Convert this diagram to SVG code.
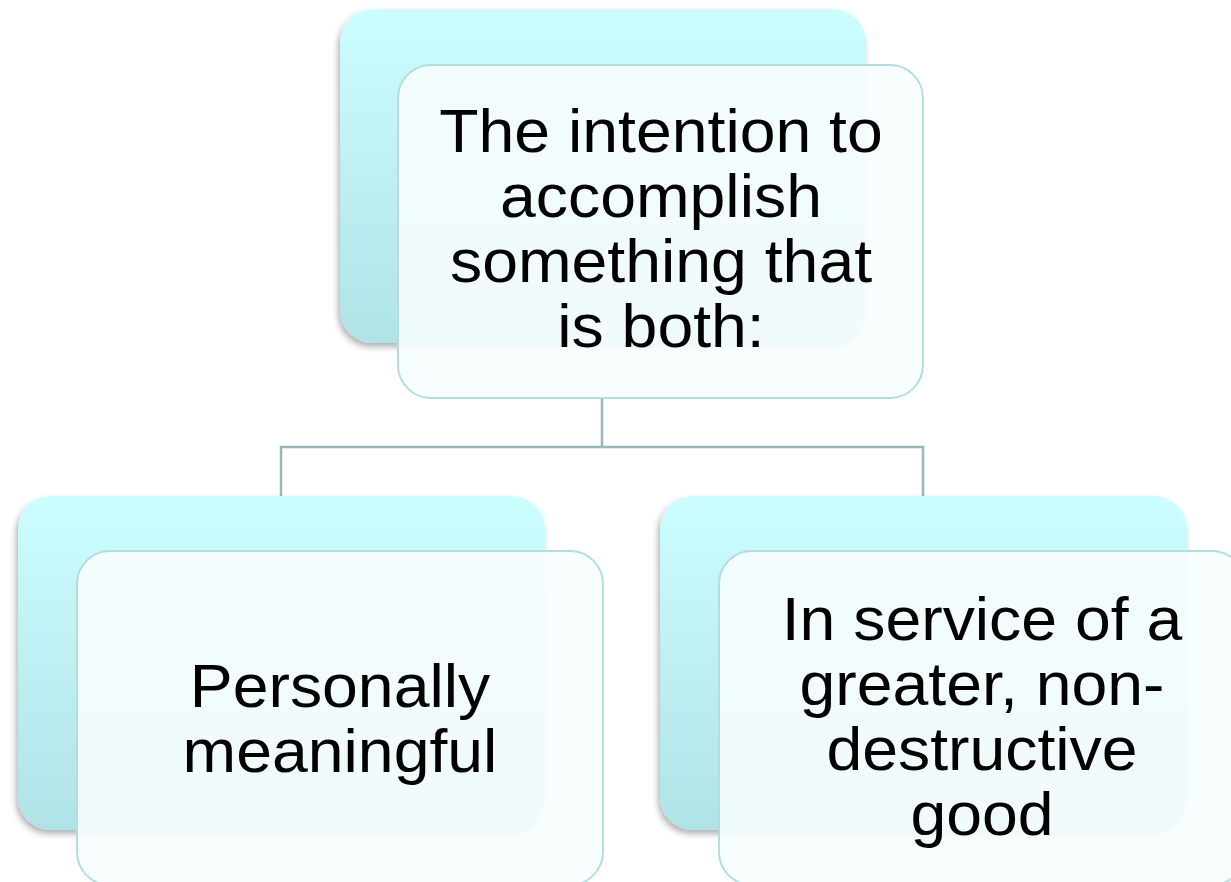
<svg xmlns="http://www.w3.org/2000/svg" width="1231" height="882" viewBox="0 0 1231 882">
  <defs>
    <linearGradient id="backGrad" x1="0" y1="0" x2="0" y2="1">
      <stop offset="0" stop-color="#ccfdff"/>
      <stop offset="1" stop-color="#b0e3e6"/>
    </linearGradient>
    <filter id="shadow" x="-10%" y="-10%" width="120%" height="120%">
      <feDropShadow dx="-2" dy="4" stdDeviation="3" flood-color="#000" flood-opacity="0.3"/>
    </filter>
    <style>
      .back { fill: url(#backGrad); filter: url(#shadow); }
      .front { fill: #f7fdfe; fill-opacity: 0.9; stroke: #b4dde1; stroke-width: 2; }
      .label { font-family: "Liberation Sans", Arial, sans-serif; font-size: 61px; fill: #000; text-anchor: middle; }
      .conn { fill: none; stroke: #98b7ba; stroke-width: 2.5; }
    </style>
  </defs>
  <rect width="1231" height="882" fill="#ffffff"/>

  <g id="connectors">
    <path class="conn" d="M602 398 V447 M281 496 V447 H923 V496"/>
  </g>

  <g id="node-top">
    <rect class="back" x="340" y="9" width="526" height="334" rx="33" ry="33"/>
    <rect class="front" x="398" y="65" width="525" height="333" rx="33" ry="33"/>
    <g transform="translate(661 0) scale(1.055 1)">
      <text class="label" x="0" y="152">The intention to</text>
      <text class="label" x="0" y="217">accomplish</text>
      <text class="label" x="0" y="282">something that</text>
      <text class="label" x="0" y="347">is both:</text>
    </g>
  </g>

  <g id="node-left">
    <rect class="back" x="18" y="496" width="527" height="334" rx="33" ry="33"/>
    <rect class="front" x="77" y="551" width="526" height="334" rx="33" ry="33"/>
    <g transform="translate(340 0) scale(1.055 1)">
      <text class="label" x="0" y="707">Personally</text>
      <text class="label" x="0" y="772">meaningful</text>
    </g>
  </g>

  <g id="node-right">
    <rect class="back" x="660" y="496" width="527" height="334" rx="33" ry="33"/>
    <rect class="front" x="719" y="551" width="526" height="334" rx="33" ry="33"/>
    <g transform="translate(982 0) scale(1.055 1)">
      <text class="label" x="0" y="640">In service of a</text>
      <text class="label" x="0" y="705">greater, non-</text>
      <text class="label" x="0" y="770">destructive</text>
      <text class="label" x="0" y="835">good</text>
    </g>
  </g>
</svg>
